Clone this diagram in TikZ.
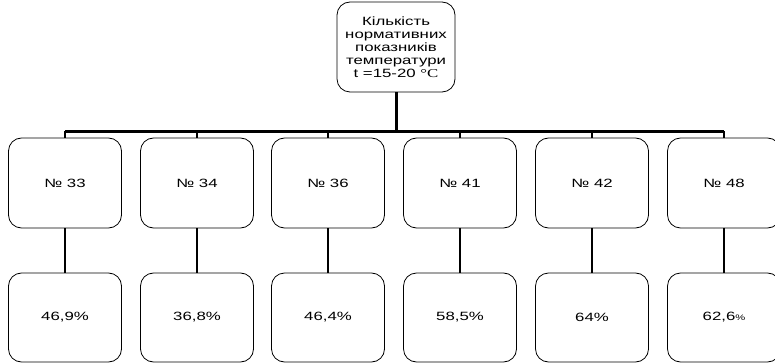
\documentclass[tikz,border=0pt]{standalone}
\usepackage{fontspec}
\setmainfont{Liberation Sans}[FakeStretch=1.4]
\newfontfamily\serifsym{Liberation Serif}[FakeStretch=1.4]
\begin{document}
\begin{tikzpicture}[x=1pt,y=-1pt,
  box/.style={draw,line width=0.8pt,rounded corners=13pt,minimum width=113pt,minimum height=90pt,inner sep=0pt,align=center,font=\fontsize{12}{13}\selectfont},
  conn/.style={line width=2.2pt},
  busline/.style={line width=2.6pt},
  maindrop/.style={line width=3pt}]
\useasboundingbox (0,0) rectangle (775,363);
\node[box,minimum width=118pt] (top) at (396,47) {Кількість\\нормативних\\показників\\температури\\t =15-20 {\serifsym °C}};
\coordinate (bus) at (396,131.5);
\foreach \n/\x/\a/\b in {a/65/{№ 33}/{46,9\%}, b/197/{№ 34}/{36,8\%}, c/328/{№ 36}/{46,4\%}, d/460/{№ 41}/{58,5\%}, e/592/{№ 42}/{64\%}, f/724/{№ 48}/{62,6{\footnotesize\%}}}{
  \node[box] (r1\n) at (\x,183) {\a};
  \node[box,minimum height=89pt] (r2\n) at (\x,317.5) {\b};
  \draw[conn] (r1\n.south) -- (r2\n.north);
  \draw[conn] (r1\n.north) -- (r1\n.north |- bus);
}
\draw[busline] (r1a.north |- bus) -- (r1f.north |- bus);
\draw[maindrop] (top.south) -- (bus);
\end{tikzpicture}
\end{document}
